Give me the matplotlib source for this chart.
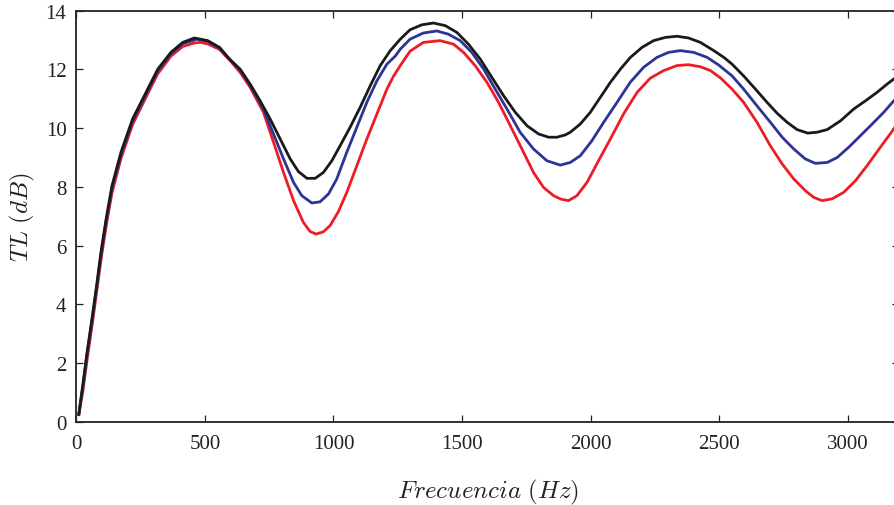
import numpy as np
import matplotlib
matplotlib.use("Agg")
import matplotlib.pyplot as plt

plt.rcParams["font.family"] = ["Liberation Serif", "DejaVu Serif"]
plt.rcParams["mathtext.fontset"] = "cm"

# ---------------------------- DATA -----------------
f_black = [10, 25, 42, 61, 79, 96, 116, 139, 174, 219, 284, 317, 368, 414,
           459, 511, 557, 596, 637, 676, 715, 754, 793, 832, 864, 897, 929,
           961, 994, 1026, 1065, 1104, 1143, 1182, 1221, 1260, 1298, 1344,
           1389, 1435, 1480, 1525, 1571, 1616, 1662, 1707, 1753, 1798, 1837,
           1869, 1902, 1921, 1960, 1999, 2038, 2077, 2116, 2155, 2200, 2245,
           2291, 2336, 2381, 2427, 2479, 2518, 2550, 2595, 2641, 2686, 2725,
           2764, 2803, 2844, 2881, 2920, 2972, 3023, 3069, 3114, 3153, 3179,
           3200]
tl_black = [0.26, 1.23, 2.36, 3.50, 4.63, 5.77, 6.90, 8.04, 9.18, 10.31,
            11.44, 12.01, 12.58, 12.92, 13.07, 12.98, 12.75, 12.35, 12.01,
            11.50, 10.93, 10.31, 9.63, 8.95, 8.52, 8.29, 8.29, 8.49, 8.89,
            9.40, 10.03, 10.71, 11.44, 12.13, 12.64, 13.03, 13.35, 13.52,
            13.58, 13.49, 13.26, 12.86, 12.35, 11.73, 11.10, 10.54, 10.08,
            9.80, 9.69, 9.69, 9.77, 9.86, 10.14, 10.54, 11.05, 11.56, 12.01,
            12.41, 12.75, 12.98, 13.09, 13.13, 13.07, 12.92, 12.64, 12.41,
            12.18, 11.78, 11.33, 10.88, 10.51, 10.20, 9.95, 9.83, 9.86, 9.95,
            10.25, 10.65, 10.93, 11.22, 11.50, 11.67, 11.78]

f_blue = [10, 25, 42, 61, 79, 96, 116, 139, 174, 219, 284, 317, 368, 414,
          470, 511, 557, 598, 637, 676, 728, 767, 806, 845, 877, 916, 948,
          981, 1013, 1052, 1091, 1130, 1169, 1208, 1240, 1260, 1298, 1350,
          1402, 1447, 1493, 1538, 1584, 1629, 1675, 1726, 1778, 1830, 1882,
          1921, 1960, 2005, 2051, 2103, 2154, 2206, 2258, 2303, 2349, 2401,
          2453, 2498, 2550, 2595, 2647, 2699, 2745, 2790, 2835, 2874, 2920,
          2959, 3004, 3049, 3095, 3140, 3179, 3200]
tl_blue = [0.25, 1.15, 2.28, 3.42, 4.55, 5.68, 6.82, 7.96, 9.10, 10.24,
           11.38, 11.95, 12.53, 12.88, 13.03, 12.96, 12.73, 12.33, 11.98,
           11.47, 10.65, 9.80, 8.95, 8.15, 7.70, 7.45, 7.49, 7.76, 8.27, 9.18,
           10.03, 10.88, 11.61, 12.18, 12.45, 12.69, 13.03, 13.24, 13.31,
           13.20, 12.98, 12.58, 12.01, 11.33, 10.65, 9.86, 9.29, 8.89, 8.74,
           8.83, 9.06, 9.57, 10.20, 10.88, 11.56, 12.07, 12.41, 12.58, 12.64,
           12.58, 12.41, 12.15, 11.78, 11.33, 10.76, 10.20, 9.69, 9.29, 8.95,
           8.80, 8.83, 9.00, 9.35, 9.74, 10.14, 10.54, 10.93, 11.10]

f_red = [10, 25, 42, 61, 79, 96, 116, 139, 174, 219, 284, 317, 368, 414,
         459, 482, 511, 557, 598, 637, 676, 728, 767, 806, 845, 883, 909,
         933, 961, 987, 1019, 1052, 1091, 1130, 1169, 1208, 1233, 1260, 1298,
         1350, 1415, 1467, 1506, 1551, 1597, 1642, 1688, 1733, 1778, 1817,
         1856, 1885, 1914, 1947, 1986, 2031, 2077, 2128, 2181, 2232, 2284,
         2336, 2381, 2427, 2466, 2505, 2550, 2595, 2647, 2699, 2745, 2790,
         2835, 2868, 2900, 2939, 2984, 3030, 3075, 3127, 3179, 3200]
tl_red = [0.24, 1.00, 2.10, 3.25, 4.40, 5.50, 6.65, 7.80, 8.97, 10.12, 11.28,
          11.85, 12.45, 12.78, 12.90, 12.92, 12.87, 12.68, 12.30, 11.90,
          11.39, 10.54, 9.52, 8.49, 7.53, 6.79, 6.48, 6.39, 6.47, 6.68, 7.15,
          7.81, 8.72, 9.63, 10.48, 11.33, 11.76, 12.13, 12.62, 12.92, 12.98,
          12.86, 12.58, 12.13, 11.56, 10.88, 10.08, 9.29, 8.49, 7.98, 7.70,
          7.58, 7.53, 7.70, 8.15, 8.89, 9.63, 10.48, 11.22, 11.70, 11.96,
          12.13, 12.16, 12.09, 11.96, 11.71, 11.33, 10.88, 10.20, 9.40, 8.78,
          8.27, 7.87, 7.64, 7.53, 7.59, 7.81, 8.21, 8.72, 9.35, 9.97, 10.25]

x_ticks = [0, 500, 1000, 1500, 2000, 2500, 3000]
y_ticks = [0, 2, 4, 6, 8, 10, 12, 14]

# ---------------------------- PLOT -------------------------------------
fig = plt.figure(figsize=(8.94, 5.06), dpi=100)
ax = fig.add_axes([0.0853, 0.1646, 0.9205, 0.8123])

ax.plot(f_red, tl_red, color="#ee1c25", lw=2.0, solid_joinstyle="round")
ax.plot(f_blue, tl_blue, color="#2b3593", lw=2.0, solid_joinstyle="round")
ax.plot(f_black, tl_black, color="#1a1a1a", lw=2.0, solid_joinstyle="round")

ax.set_xlim(0, 3200); ax.set_ylim(0, 14)
ax.set_xticks(x_ticks); ax.set_yticks(y_ticks)
ax.tick_params(direction="in", length=5, width=0.9, top=True, right=True,
               labelsize=15, colors="#222222")
ax.tick_params(axis="x", pad=9)
ax.tick_params(axis="y", pad=7)
for s in ax.spines.values():
    s.set_linewidth(1.3); s.set_color("#222222")

ax.set_xlabel(r"$Frecuencia\ (Hz)$", fontsize=18, labelpad=17, color="#222222")
ax.set_ylabel(r"$TL\ (dB)$", fontsize=18, labelpad=6, color="#222222")

fig.savefig("out.png", dpi=100)
